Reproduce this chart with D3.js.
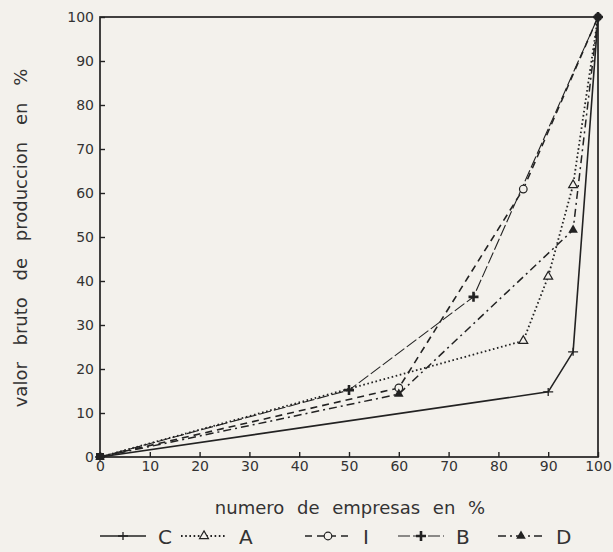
<!DOCTYPE html>
<html>
<head>
<meta charset="utf-8">
<script src="https://cdn.jsdelivr.net/npm/d3@7"></script>
<style>
  body { margin: 0; background: #f3f1ec; }
  svg { display: block; }
  .tick text { font-family: "DejaVu Sans", sans-serif; font-size: 14px; fill: #333; }
  .tick line { stroke: #222; stroke-width: 1.4; }
</style>
</head>
<body>
<svg></svg>
<script>
// x = numero de empresas (%), y = valor bruto de produccion (%)
const xTicks = [0, 10, 20, 30, 40, 50, 60, 70, 80, 90, 100];
const yTicks = [0, 10, 20, 30, 40, 50, 60, 70, 80, 90, 100];

const cX = [0, 90, 95, 100];
const cY = [0, 14.8, 23.9, 100];
const aX = [0, 50, 85, 90, 95, 100];
const aY = [0, 15.5, 26.4, 41, 61.8, 100];
const iX = [0, 60, 85, 100];
const iY = [0, 15.7, 60.9, 100];
const bX = [0, 50, 75, 100];
const bY = [0, 15.2, 36.4, 100];
const dX = [0, 60, 95, 100];
const dY = [0, 14.3, 51.6, 100];

// where each series shows its marker
const cMarks = [0, 90, 95, 100];
const aMarks = [85, 90, 95];
const iMarks = [60, 85];
const bMarks = [50, 75, 100];
const dMarks = [0, 60, 95];

const names = ["C", "A", "I", "B", "D"];

const width = 613, height = 552;
const margin = { top: 17, left: 100, right: 15, bottom: 95 };

const svg = d3.select("svg").attr("width", width).attr("height", height);

const x = d3.scaleLinear().domain([0, 100]).range([margin.left, width - margin.right]);
const y = d3.scaleLinear().domain([0, 100]).range([height - margin.bottom, margin.top]);

const ink = "#222";
const bg = "#f3f1ec";

// styles per series
const styles = {
  C: { dash: null, w: 1.6, mark: "plus" },
  A: { dash: "1.6,2.6", w: 1.8, mark: "triOpen" },
  I: { dash: "7,5", w: 1.6, mark: "circOpen" },
  B: { dash: "12,3", w: 1.1, mark: "cross" },
  D: { dash: "8,4,2,4", w: 1.5, mark: "triFill" }
};

const series = [
  { name: "C", xs: cX, ys: cY, marks: cMarks },
  { name: "A", xs: aX, ys: aY, marks: aMarks },
  { name: "I", xs: iX, ys: iY, marks: iMarks },
  { name: "B", xs: bX, ys: bY, marks: bMarks },
  { name: "D", xs: dX, ys: dY, marks: dMarks }
];

// axes
svg.append("g")
  .attr("transform", `translate(0,${y(0)})`)
  .call(d3.axisBottom(x).tickValues(xTicks).tickSizeInner(-5).tickSizeOuter(0).tickPadding(4))
  .call(g => g.select(".domain").remove());

svg.append("g")
  .attr("transform", `translate(${x(0)},0)`)
  .call(d3.axisLeft(y).tickValues(yTicks).tickSizeInner(-5).tickSizeOuter(0).tickPadding(6))
  .call(g => g.select(".domain").remove());

svg.append("rect")
  .attr("x", x(0)).attr("y", y(100))
  .attr("width", x(100) - x(0)).attr("height", y(0) - y(100))
  .attr("fill", "none").attr("stroke", ink).attr("stroke-width", 1.7);

function drawMark(g, type, px, py) {
  if (type === "plus") {
    g.append("path").attr("d", `M${px - 5},${py}H${px + 5}M${px},${py - 4}V${py + 4}`)
      .attr("stroke", ink).attr("stroke-width", 1.3).attr("fill", "none");
  } else if (type === "triOpen") {
    g.append("path").attr("transform", `translate(${px},${py})`)
      .attr("d", d3.symbol(d3.symbolTriangle, 34)())
      .attr("fill", bg).attr("stroke", ink).attr("stroke-width", 1.2);
  } else if (type === "circOpen") {
    g.append("circle").attr("cx", px).attr("cy", py).attr("r", 3.8)
      .attr("fill", bg).attr("stroke", ink).attr("stroke-width", 1.2);
  } else if (type === "cross") {
    g.append("path").attr("d", `M${px - 5},${py}H${px + 5}M${px},${py - 5}V${py + 5}`)
      .attr("stroke", ink).attr("stroke-width", 2.6).attr("fill", "none");
  } else if (type === "triFill") {
    g.append("path").attr("transform", `translate(${px},${py})`)
      .attr("d", d3.symbol(d3.symbolTriangle, 40)())
      .attr("fill", ink);
  }
}

const line = d3.line().x(d => x(d[0])).y(d => y(d[1]));

series.forEach(s => {
  const st = styles[s.name];
  const pts = s.xs.map((v, i) => [v, s.ys[i]]);
  svg.append("path")
    .datum(pts)
    .attr("d", line)
    .attr("fill", "none")
    .attr("stroke", ink)
    .attr("stroke-width", st.w)
    .attr("stroke-dasharray", st.dash);
});

series.forEach(s => {
  const st = styles[s.name];
  const g = svg.append("g");
  s.xs.forEach((v, i) => {
    if (s.marks.includes(v)) drawMark(g, st.mark, x(v), y(s.ys[i]));
  });
});

// blobs at the common end points
svg.append("rect").attr("x", x(0) - 4).attr("y", y(0) - 4).attr("width", 8).attr("height", 7).attr("fill", ink);
svg.append("circle").attr("cx", x(100)).attr("cy", y(100)).attr("r", 4).attr("fill", ink);

// axis titles
svg.append("text")
  .attr("x", 350).attr("y", 514)
  .attr("text-anchor", "middle")
  .attr("fill", "#333")
  .style("font-family", "DejaVu Sans, sans-serif").style("font-size", "18px")
  .style("word-spacing", "7px")
  .text("numero de empresas en %");

svg.append("text")
  .attr("transform", "translate(27,238) rotate(-90)")
  .attr("text-anchor", "middle")
  .attr("fill", "#333")
  .style("font-family", "DejaVu Sans, sans-serif").style("font-size", "18px")
  .style("word-spacing", "11px")
  .text("valor bruto de produccion en %");

// legend
const legX = [100, 181, 305, 398, 498];
const legY = 536;
names.forEach((n, i) => {
  const st = styles[n];
  const g = svg.append("g");
  const x1 = legX[i], x2 = legX[i] + 46;
  g.append("line").attr("x1", x1).attr("x2", x2).attr("y1", legY).attr("y2", legY)
    .attr("stroke", ink).attr("stroke-width", st.w).attr("stroke-dasharray", st.dash);
  drawMark(g, st.mark, (x1 + x2) / 2, legY);
  g.append("text").attr("x", x2 + 12).attr("y", legY + 7.5)
    .attr("fill", "#333")
    .style("font-family", "DejaVu Sans, sans-serif").style("font-size", "20px")
    .text(n);
});
</script>
</body>
</html>
